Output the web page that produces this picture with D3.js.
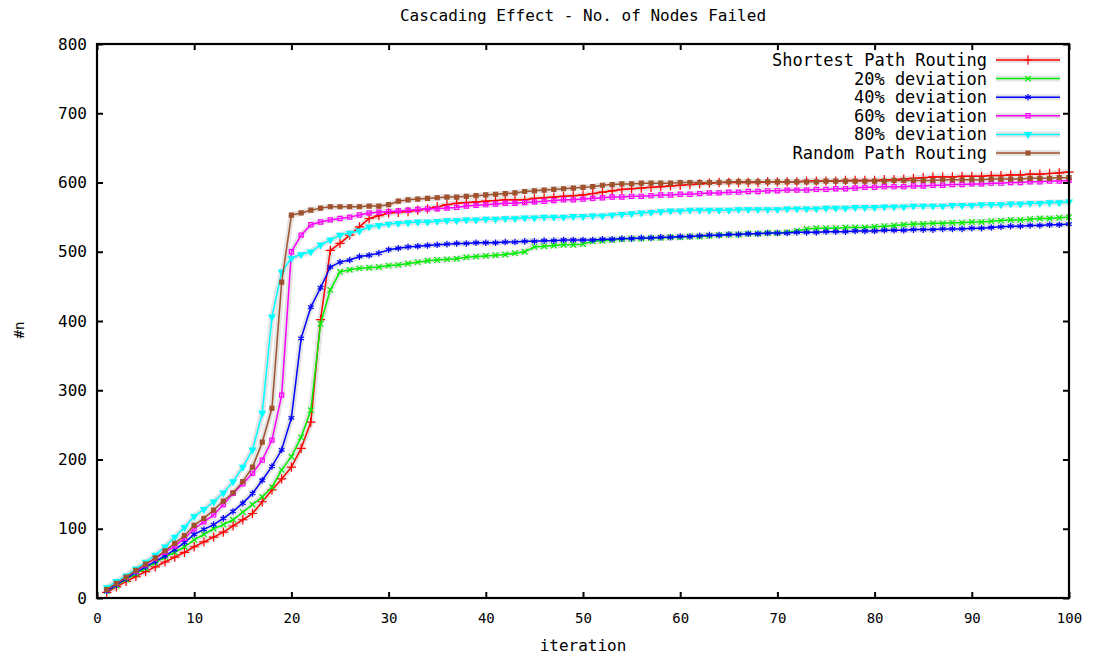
<!DOCTYPE html>
<html>
<head>
<meta charset="utf-8">
<script src="https://d3js.org/d3.v7.min.js"></script>
<style>
  body { margin: 0; background: #fff; }
  text { font-family: "DejaVu Sans Mono", "Liberation Mono", monospace; fill: #000; }
</style>
</head>
<body>
<svg id="chart" width="1100" height="660"></svg>
<script>
// values, one per iteration (1..100)
const shortestPath = [8,16,24,31,38,45,52,59,66,74,81,88,95,104,113,122,139,156,172,189,216,254,402,502,512,524,536,548,552,556,
  557,558,560,562,565,568,570,571,572,573,574,575,575,575,577,578,579,580,581,582,
  584,586,588,590,591,592,593,594,595,596,597,598,599,600,600,600,600,600,601,601,
  601,601,602,602,602,602,603,603,603,603,604,604,605,606,607,608,608,608,609,609,
  609,610,610,611,611,612,612,613,614,615];
const dev20 = [10,18,27,35,43,51,59,66,74,84,92,100,106,113,124,135,146,160,185,204,232,271,396,445,471,474,476,477,478,480,
  481,483,485,487,488,489,490,492,493,494,495,496,498,500,507,508,509,510,510,511,
  515,516,517,518,519,519,520,520,521,521,522,522,523,524,525,525,526,526,527,527,
  528,530,533,534,534,534,535,535,535,536,537,538,539,540,540,541,541,542,542,543,
  543,544,545,546,546,547,548,548,549,550];
const dev40 = [10,19,28,37,45,53,61,70,80,92,99,106,115,125,137,151,170,190,214,260,375,420,448,478,485,488,493,495,498,503,
  505,507,508,509,510,511,512,512,513,513,513,514,514,515,515,516,516,517,517,517,
  517,518,518,519,519,520,520,521,521,522,522,523,524,524,525,525,526,526,527,527,
  527,528,528,528,529,529,529,530,530,530,531,531,531,532,532,532,533,533,533,534,
  534,535,536,537,537,538,538,539,539,540];
const dev60 = [12,21,30,39,48,57,66,75,86,100,110,120,135,151,165,180,199,228,293,500,524,539,543,546,548,550,553,556,557,558,
  559,560,561,562,562,563,564,566,567,568,569,570,570,571,572,573,574,575,575,576,
  577,578,579,579,580,580,581,582,582,583,583,584,585,585,586,586,587,587,588,588,
  589,589,589,590,590,591,591,592,593,593,594,594,594,595,595,596,596,597,597,598,
  598,599,599,600,600,601,601,602,602,603];
const dev80 = [15,24,32,42,52,62,74,88,102,118,128,139,152,168,189,214,267,406,471,491,496,500,510,517,524,527,530,536,538,540,
  541,542,543,543,544,545,545,546,546,547,547,548,548,549,549,550,550,550,551,551,
  552,552,553,554,555,556,557,558,559,559,560,560,560,560,560,561,561,561,561,561,
  562,562,562,562,563,563,563,564,564,564,565,565,565,566,566,566,566,567,567,567,
  568,568,568,569,569,570,570,571,571,572];
const randomPath = [12,21,30,40,49,58,68,79,90,105,115,127,140,152,168,189,225,274,456,553,556,560,563,565,565,565,565,566,566,568,
  573,575,576,577,578,579,579,580,581,582,583,584,585,587,588,589,590,591,592,593,
  594,596,597,598,598,599,599,599,599,600,600,600,600,600,601,601,601,601,601,601,
  601,601,601,601,602,602,602,602,602,602,602,603,603,603,603,603,604,604,604,604,
  604,605,605,605,605,606,606,606,607,607];

const seriesNames = ["Shortest Path Routing", "20% deviation", "40% deviation", "60% deviation", "80% deviation", "Random Path Routing"];
const seriesColors = ["#ff0000", "#00ee00", "#0000ff", "#ff00ff", "#00ffff", "#a0522d"];
const xTicks = [0,10,20,30,40,50,60,70,80,90,100];
const yTicks = [0,100,200,300,400,500,600,700,800];

const allSeries = [shortestPath, dev20, dev40, dev60, dev80, randomPath];

const svg = d3.select("#chart");
const margin = {top: 44, right: 31, bottom: 62, left: 97},
  width = +svg.attr("width") - margin.left - margin.right,
  height = +svg.attr("height") - margin.top - margin.bottom;

svg.append("rect").attr("width", 1100).attr("height", 660).attr("fill", "#fff");

const g = svg.append("g").attr("transform", "translate(" + margin.left + "," + margin.top + ")");

const x = d3.scaleLinear().domain([0, 100]).range([0, width]);
const y = d3.scaleLinear().domain([0, 800]).range([height, 0]);

// marker shapes, roughly like gnuplot point types
const symbols = [
  {type: d3.symbolPlus, size: 30, fill: false},
  {type: d3.symbolTimes, size: 22, fill: false},
  {type: d3.symbolAsterisk, size: 30, fill: false},
  {type: d3.symbolSquare2, size: 22, fill: false},
  {type: d3.symbolTriangle, size: 16, fill: true, rot: 180},
  {type: d3.symbolSquare, size: 16, fill: true}
];

const line = d3.line()
  .x((d, i) => x(i + 1))
  .y(d => y(d));

// grey halo that the original picture has round every mark
const halo = g.append("g");
allSeries.forEach(s => {
  halo.append("path")
    .attr("d", line(s))
    .attr("fill", "none")
    .attr("stroke", "#e4e4e4")
    .attr("stroke-width", 6)
    .attr("stroke-linejoin", "round");
});

allSeries.forEach((s, k) => {
  const col = seriesColors[k];
  const sym = symbols[k];
  const sg = g.append("g").attr("class", "series");
  sg.append("path")
    .attr("d", line(s))
    .attr("fill", "none")
    .attr("stroke", col)
    .attr("stroke-width", 1.5);
  sg.selectAll("path.pt")
    .data(s)
    .enter().append("path")
    .attr("class", "pt")
    .attr("transform", (d, i) => "translate(" + x(i + 1) + "," + y(d) + ")" + (sym.rot ? " rotate(" + sym.rot + ")" : ""))
    .attr("d", d3.symbol().type(sym.type).size(sym.size))
    .attr("fill", sym.fill ? col : "none")
    .attr("stroke", col)
    .attr("stroke-width", 1.2);
});

// frame and inward ticks on all four sides
g.append("rect")
  .attr("width", width).attr("height", height)
  .attr("fill", "none").attr("stroke", "#000").attr("stroke-width", 2.2);

const axBottom = g.append("g")
  .attr("transform", "translate(0," + height + ")")
  .call(d3.axisBottom(x).tickValues(xTicks).tickSizeInner(-6).tickSizeOuter(0).tickPadding(15));
const axTop = g.append("g")
  .call(d3.axisTop(x).tickValues(xTicks).tickSizeInner(-6).tickSizeOuter(0).tickFormat(""));
const axLeft = g.append("g")
  .call(d3.axisLeft(y).tickValues(yTicks).tickSizeInner(-6).tickSizeOuter(0).tickPadding(10));
const axRight = g.append("g")
  .attr("transform", "translate(" + width + ",0)")
  .call(d3.axisRight(y).tickValues(yTicks).tickSizeInner(-6).tickSizeOuter(0).tickFormat(""));

[axBottom, axTop, axLeft, axRight].forEach(a => {
  a.select(".domain").remove();
  a.selectAll(".tick line").attr("stroke", "#000").attr("stroke-width", 2);
});
axBottom.selectAll("text").style("font-size", "14px");
axLeft.selectAll("text").style("font-size", "16px");

// titles
svg.append("text")
  .attr("x", 583).attr("y", 21)
  .attr("text-anchor", "middle")
  .style("font-size", "16px")
  .text("Cascading Effect - No. of Nodes Failed");

svg.append("text")
  .attr("x", 583).attr("y", 651)
  .attr("text-anchor", "middle")
  .style("font-size", "16px")
  .text("iteration");

svg.append("text")
  .attr("transform", "translate(24,330) rotate(-90)")
  .attr("text-anchor", "middle")
  .style("font-size", "14px")
  .text("#n");

// legend
const legend = g.append("g").attr("transform", "translate(" + (987 - margin.left) + "," + (60 - margin.top) + ")");
seriesNames.forEach((name, k) => {
  const row = legend.append("g").attr("transform", "translate(0," + (k * 18.6) + ")");
  row.append("text")
    .attr("text-anchor", "end")
    .attr("dy", "0.35em")
    .style("font-size", "17px")
    .text(name);
  row.append("line")
    .attr("x1", 9).attr("x2", 73)
    .attr("stroke", "#e4e4e4").attr("stroke-width", 6);
  row.append("line")
    .attr("x1", 9).attr("x2", 73)
    .attr("stroke", seriesColors[k]).attr("stroke-width", 1.5);
  row.append("path")
    .attr("transform", "translate(41,0)" + (symbols[k].rot ? " rotate(" + symbols[k].rot + ")" : ""))
    .attr("d", d3.symbol().type(symbols[k].type).size(symbols[k].size))
    .attr("fill", symbols[k].fill ? seriesColors[k] : "none")
    .attr("stroke", seriesColors[k])
    .attr("stroke-width", 1.2);
});
</script>
</body>
</html>
